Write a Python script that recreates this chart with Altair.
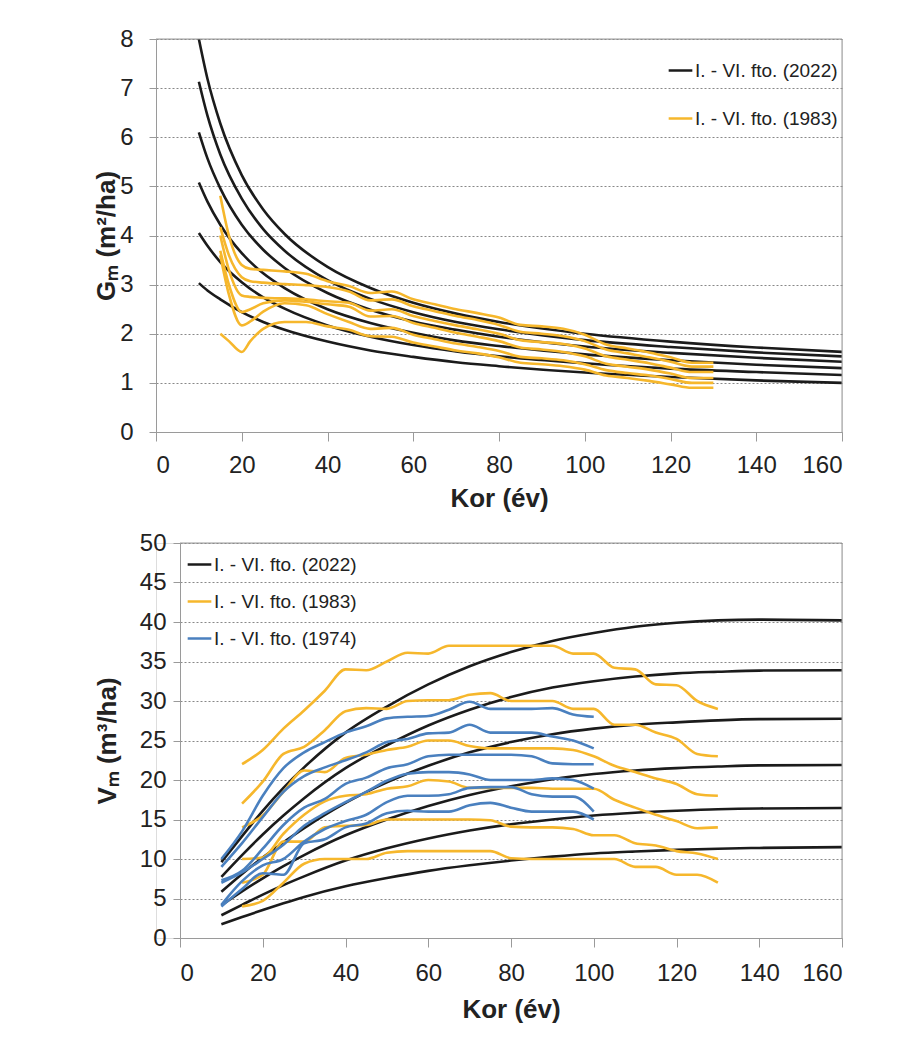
import altair as alt
import pandas as pd

# ---------------- data: top panel (G_m) ----------------
L2022 = "I. - VI. fto. (2022)"
L1983 = "I. - VI. fto. (1983)"
L1974 = "I. - VI. fto. (1974)"

X_G_2022 = [10, 12, 15, 20, 25, 30, 40, 50, 60, 70, 80, 100, 120, 140, 160]
G_2022_1 = [8.00, 7.19, 6.28, 5.23, 4.53, 4.03, 3.36, 2.93, 2.63, 2.41, 2.24, 2.00, 1.84, 1.72, 1.63]
G_2022_2 = [7.13, 6.44, 5.65, 4.75, 4.13, 3.69, 3.09, 2.71, 2.44, 2.24, 2.09, 1.87, 1.73, 1.62, 1.54]
G_2022_3 = [6.10, 5.57, 4.96, 4.22, 3.71, 3.34, 2.83, 2.49, 2.25, 2.08, 1.94, 1.74, 1.61, 1.51, 1.43]
G_2022_4 = [5.08, 4.69, 4.22, 3.64, 3.23, 2.93, 2.50, 2.22, 2.02, 1.86, 1.75, 1.58, 1.46, 1.37, 1.30]
G_2022_5 = [4.05, 3.79, 3.46, 3.05, 2.74, 2.51, 2.17, 1.94, 1.77, 1.64, 1.54, 1.40, 1.29, 1.22, 1.16]
G_2022_6 = [3.03, 2.88, 2.70, 2.44, 2.24, 2.08, 1.84, 1.66, 1.53, 1.42, 1.34, 1.21, 1.12, 1.05, 1.00]

X_G_1983 = [15, 17, 20, 22, 25, 30, 35, 40, 45, 50, 55, 60, 65, 70, 75, 80, 85, 90, 95, 100,
            105, 110, 115, 120, 125, 130]
G_1983_1 = [4.81, 4.00, 3.40, 3.32, 3.30, 3.27, 3.22, 3.07, 2.97, 2.83, 2.86, 2.70, 2.60, 2.50,
            2.42, 2.33, 2.18, 2.15, 2.10, 1.98, 1.78, 1.70, 1.62, 1.52, 1.41, 1.41]
G_1983_2 = [4.17, 3.60, 3.15, 3.07, 3.04, 3.01, 2.99, 2.95, 2.86, 2.68, 2.70, 2.56, 2.46, 2.36,
            2.28, 2.18, 2.04, 2.00, 1.95, 1.85, 1.68, 1.60, 1.52, 1.43, 1.33, 1.33]
G_1983_3 = [4.00, 3.30, 2.78, 2.75, 2.73, 2.72, 2.70, 2.66, 2.63, 2.47, 2.50, 2.36, 2.26, 2.17,
            2.09, 2.00, 1.87, 1.83, 1.79, 1.70, 1.54, 1.47, 1.40, 1.31, 1.22, 1.22]
G_1983_4 = [3.69, 3.00, 2.44, 2.50, 2.62, 2.68, 2.65, 2.60, 2.55, 2.35, 2.36, 2.22, 2.12, 2.02,
            1.94, 1.85, 1.72, 1.68, 1.63, 1.54, 1.39, 1.33, 1.27, 1.19, 1.10, 1.10]
G_1983_5 = [3.60, 2.80, 2.17, 2.25, 2.45, 2.62, 2.58, 2.40, 2.24, 2.10, 2.12, 1.98, 1.89, 1.80,
            1.73, 1.65, 1.53, 1.50, 1.46, 1.38, 1.26, 1.20, 1.15, 1.08, 1.00, 1.00]
G_1983_6 = [2.00, 1.85, 1.63, 1.85, 2.10, 2.24, 2.24, 2.15, 2.08, 1.95, 1.94, 1.82, 1.74, 1.66,
            1.60, 1.52, 1.41, 1.38, 1.34, 1.27, 1.15, 1.10, 1.04, 0.97, 0.90, 0.90]

# ---------------- data: bottom panel (V_m) ----------------
X_V_2022 = [10, 15, 20, 25, 30, 40, 50, 60, 70, 80, 90, 100, 110, 120, 130, 140, 160]
V_2022_1 = [9.6, 12.9, 16.1, 19.0, 21.6, 26.0, 29.3, 32.1, 34.4, 36.2, 37.6, 38.6, 39.4, 39.9, 40.2, 40.3, 40.2]
V_2022_2 = [7.74, 10.5, 13.1, 15.5, 17.7, 21.5, 24.4, 26.9, 28.9, 30.5, 31.7, 32.5, 33.1, 33.5, 33.7, 33.85, 33.9]
V_2022_3 = [5.85, 8.1, 10.2, 12.1, 13.9, 17.1, 19.7, 21.8, 23.5, 24.8, 25.8, 26.5, 27.0, 27.3, 27.55, 27.7, 27.75]
V_2022_4 = [4.15, 5.9, 7.55, 9.1, 10.5, 13.0, 15.0, 16.7, 18.1, 19.2, 20.1, 20.75, 21.2, 21.5, 21.7, 21.85, 21.9]
V_2022_5 = [2.88, 4.2, 5.5, 6.7, 7.8, 9.8, 11.35, 12.6, 13.6, 14.4, 15.0, 15.5, 15.85, 16.1, 16.3, 16.4, 16.45]
V_2022_6 = [1.74, 2.65, 3.55, 4.4, 5.2, 6.55, 7.6, 8.5, 9.2, 9.8, 10.3, 10.7, 10.95, 11.15, 11.3, 11.4, 11.5]

X_V_1983 = [15, 20, 25, 30, 35, 40, 45, 50, 55, 60, 65, 70, 75, 80, 85, 90, 95, 100,
            105, 110, 115, 120, 125, 130]
V_1983_1 = [22.0, 23.8, 26.5, 28.8, 31.3, 34.0, 33.9, 35.0, 36.1, 36.0, 37.0, 37.0, 37.0, 37.0,
            37.0, 37.0, 36.0, 36.0, 34.2, 34.0, 32.1, 32.0, 30.0, 29.0]
V_1983_2 = [17.0, 19.8, 23.3, 24.2, 26.3, 28.7, 29.1, 29.0, 30.0, 30.1, 30.1, 30.8, 31.0, 30.0,
            30.0, 30.0, 29.0, 29.0, 27.0, 27.0, 26.0, 25.2, 23.3, 23.0]
V_1983_3 = [14.0, 15.5, 18.5, 21.2, 21.0, 22.8, 23.2, 23.8, 24.2, 25.0, 25.0, 24.3, 24.0, 24.0,
            24.0, 24.0, 23.8, 23.0, 21.8, 21.0, 20.2, 19.5, 18.2, 18.0]
V_1983_4 = [10.0, 10.2, 13.2, 15.6, 17.3, 18.0, 18.2, 18.9, 19.2, 20.0, 19.8, 19.0, 19.0, 19.0,
            19.0, 18.9, 18.9, 18.9, 17.5, 16.5, 15.6, 14.8, 13.9, 14.0]
V_1983_5 = [7.0, 8.0, 12.2, 12.2, 14.0, 14.2, 14.3, 15.0, 15.0, 15.0, 15.0, 15.0, 14.9, 14.1,
            14.0, 14.0, 13.8, 13.0, 13.0, 12.0, 11.7, 11.0, 10.7, 10.0]
V_1983_6 = [4.0, 4.7, 7.0, 9.4, 10.0, 10.0, 10.0, 10.8, 11.0, 11.0, 11.0, 11.0, 11.0, 10.1,
            10.0, 10.0, 10.0, 10.0, 10.0, 9.0, 9.0, 8.0, 8.0, 7.0]

X_V_1974 = [10, 15, 20, 25, 30, 35, 40, 45, 50, 55, 60, 65, 70, 75, 80, 85, 90, 95, 100]
V_1974_1 = [10.0, 13.5, 18.0, 21.5, 23.5, 24.8, 26.0, 26.8, 27.8, 28.0, 28.1, 28.9, 29.9, 29.0, 29.0, 29.0, 29.1, 28.3, 28.0]
V_1974_2 = [9.0, 12.0, 15.3, 18.5, 20.5, 21.6, 22.5, 23.5, 24.8, 25.2, 25.9, 26.0, 27.0, 26.0, 26.0, 26.0, 25.5, 25.0, 24.0]
V_1974_3 = [7.3, 8.5, 11.3, 14.3, 16.5, 17.6, 19.5, 20.3, 21.5, 22.0, 23.0, 23.2, 23.2, 23.2, 23.2, 23.0, 22.1, 22.0, 22.0]
V_1974_4 = [7.0, 8.3, 10.0, 11.8, 14.2, 15.8, 17.2, 18.5, 19.9, 20.8, 21.0, 21.0, 20.7, 20.0, 20.0, 20.0, 20.2, 20.0, 18.9]
V_1974_5 = [4.2, 7.2, 9.2, 10.0, 12.2, 13.8, 14.8, 15.6, 17.2, 18.0, 18.0, 18.2, 19.0, 19.1, 19.1, 18.2, 17.9, 17.9, 16.0]
V_1974_6 = [4.0, 6.2, 8.2, 8.0, 12.0, 12.5, 14.0, 14.5, 15.8, 16.1, 16.0, 16.0, 16.8, 17.1, 16.5, 16.0, 16.0, 16.0, 15.0]

X_TICKS = [0, 20, 40, 60, 80, 100, 120, 140, 160]
G_TICKS = [0, 1, 2, 3, 4, 5, 6, 7, 8]
V_TICKS = [0, 5, 10, 15, 20, 25, 30, 35, 40, 45, 50]

BLACK = "#1b1b1b"
ORANGE = "#f6b72c"
BLUE = "#4a80bf"
FRAME = "#9a9a9a"

FONT = "Liberation Sans"


def long_frame(xs, series, label):
    rows = []
    for i, ys in enumerate(series):
        for x, y in zip(xs, ys):
            rows.append({"x": x, "y": y, "grp": label, "sid": f"{label}-{i}"})
    return pd.DataFrame(rows)


g22 = long_frame(X_G_2022, [G_2022_1, G_2022_2, G_2022_3, G_2022_4, G_2022_5, G_2022_6], L2022)
g83 = long_frame(X_G_1983, [G_1983_1, G_1983_2, G_1983_3, G_1983_4, G_1983_5, G_1983_6], L1983)
v22 = long_frame(X_V_2022, [V_2022_1, V_2022_2, V_2022_3, V_2022_4, V_2022_5, V_2022_6], L2022)
v83 = long_frame(X_V_1983, [V_1983_1, V_1983_2, V_1983_3, V_1983_4, V_1983_5, V_1983_6], L1983)
v74 = long_frame(X_V_1974, [V_1974_1, V_1974_2, V_1974_3, V_1974_4, V_1974_5, V_1974_6], L1974)
one = pd.DataFrame({"k": [0]})


def x_axis(lpad, tpad):
    return alt.Axis(values=X_TICKS, grid=False, tickSize=9, labelPadding=lpad,
                    labelFontSize=24, labelFont=FONT, labelColor="#222",
                    title="Kor (év)", titleFontSize=26, titleFont=FONT,
                    titleFontWeight="bold", titleColor="#222", titlePadding=tpad,
                    domainColor=FRAME, tickColor=FRAME)


def y_axis(values, title, extent, lpad, offset):
    return alt.Axis(values=values, grid=True, gridDash=[2, 2], gridColor="#6a6a6a",
                    gridWidth=0.8, tickSize=7, labelPadding=lpad, labelFontSize=24,
                    labelFont=FONT, labelColor="#222", title=title, titleFontSize=26,
                    titleFont=FONT, titleFontWeight="bold", titleColor="#222",
                    titlePadding=10, minExtent=extent, maxExtent=extent, offset=offset,
                    labelOverlap=False, domainColor=FRAME, tickColor=FRAME)


def legend(x, y, rowpad):
    return alt.Legend(title=None, orient="none", legendX=x, legendY=y,
                      symbolType="stroke", symbolStrokeWidth=2.5, symbolSize=560,
                      labelFontSize=19, labelFont=FONT, labelColor="#222",
                      labelLimit=400, rowPadding=rowpad, labelOffset=1, padding=0)


def frame(xs, ys, xax, yax, xmax, ymax):
    topline = alt.Chart(one).mark_rule(color=FRAME, strokeWidth=1).encode(
        x=alt.X(datum=0, scale=xs, axis=xax), x2=alt.datum(xmax),
        y=alt.Y(datum=ymax, scale=ys, axis=yax))
    rightline = alt.Chart(one).mark_rule(color=FRAME, strokeWidth=1).encode(
        x=alt.X(datum=xmax, scale=xs, axis=xax),
        y=alt.Y(datum=0, scale=ys, axis=yax), y2=alt.datum(ymax))
    return [topline, rightline]


# ---------------- top chart ----------------
top_color = alt.Scale(domain=[L2022, L1983], range=[BLACK, ORANGE])
top_leg = legend(511, 18, 24)
top_xs = alt.Scale(domain=[0, 160], nice=False)
top_ys = alt.Scale(domain=[0, 8], nice=False)
top_xax = x_axis(12, 8)
top_yax = y_axis(G_TICKS, "Gₘ (m²/ha)", 27, 16, 0)


def top_layer(df):
    return alt.Chart(df).mark_line(strokeWidth=2.6, interpolate="monotone", clip=True).encode(
        x=alt.X("x:Q", scale=top_xs, axis=top_xax),
        y=alt.Y("y:Q", scale=top_ys, axis=top_yax),
        color=alt.Color("grp:N", scale=top_color, legend=top_leg),
        detail="sid:N",
    )


top = alt.layer(top_layer(g22), top_layer(g83),
                *frame(top_xs, top_ys, top_xax, top_yax, 160, 8)).properties(
    width=686, height=393)

# ---------------- bottom chart ----------------
bot_color = alt.Scale(domain=[L2022, L1983, L1974], range=[BLACK, ORANGE, BLUE])
bot_leg = legend(30, 8, 13)
bot_xs = alt.Scale(domain=[0, 160], range=[24, 686], nice=False)
bot_ys = alt.Scale(domain=[0, 50], nice=False)
bot_xax = x_axis(14, 11)
bot_yax = y_axis(V_TICKS, "Vₘ (m³/ha)", 50, 7, -24)


def bot_layer(df):
    return alt.Chart(df).mark_line(strokeWidth=2.6, interpolate="monotone", clip=True).encode(
        x=alt.X("x:Q", scale=bot_xs, axis=bot_xax),
        y=alt.Y("y:Q", scale=bot_ys, axis=bot_yax),
        color=alt.Color("grp:N", scale=bot_color, legend=bot_leg),
        detail="sid:N",
    )


bottom = alt.layer(bot_layer(v22), bot_layer(v83), bot_layer(v74),
                   *frame(bot_xs, bot_ys, bot_xax, bot_yax, 160, 50)).properties(
    width=686, height=395)

chart = alt.vconcat(top, bottom, spacing=18).resolve_scale(
    color="independent"
).properties(
    padding={"left": 84, "top": 18, "right": 5, "bottom": 5}
).configure_view(strokeWidth=0).configure(background="white")

chart.save("out.html", embed_options={"renderer": "svg", "actions": False})
